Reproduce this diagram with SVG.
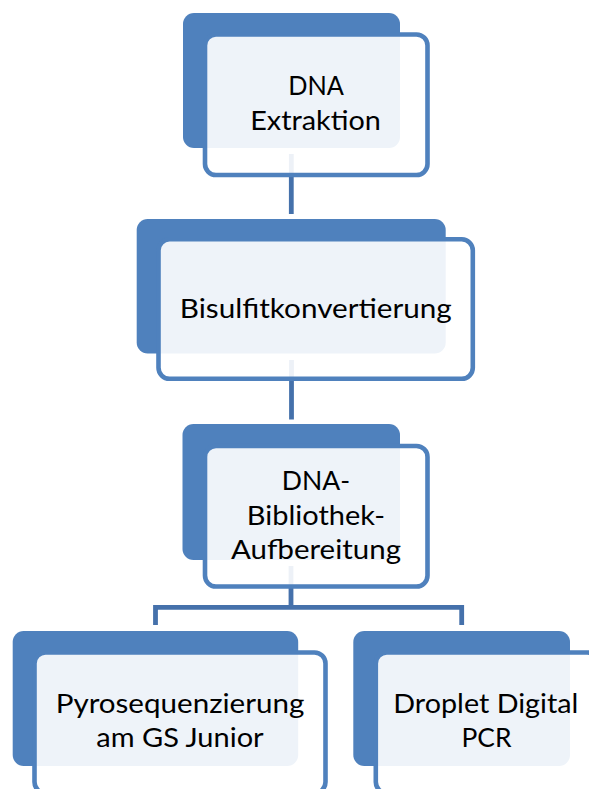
<svg xmlns="http://www.w3.org/2000/svg" width="589" height="789" viewBox="0 0 589 789">
<style>
.back{fill:#4F81BD;}
.front{fill:#FFFFFF;fill-opacity:0.9;stroke:#4F81BD;stroke-width:4.6;}
.conn{fill:none;stroke:#4571AB;stroke-width:4.8;stroke-linejoin:miter;}
.lbl{font-family:Lato,"Liberation Sans",sans-serif;font-size:26.5px;fill:#000000;text-anchor:middle;}
</style>
<rect width="589" height="789" fill="#FFFFFF"/>
<g id="connectors">
<path class="conn" d="M291.3,154 V214"/>
<path class="conn" d="M291.5,360 V419.5"/>
<path class="conn" d="M291,566 V607.3 M155.5,625 V607.3 H461.7 V625"/>
</g>
<g id="node-dna-extraktion">
<rect class="back" x="183" y="13" width="217" height="135" rx="11"/>
<rect class="front" x="205" y="34.5" width="222.5" height="140.5" rx="11"/>
<text class="lbl" x="316" y="95" textLength="55.7" lengthAdjust="spacingAndGlyphs">DNA</text>
<text class="lbl" x="315.5" y="130" textLength="130.7" lengthAdjust="spacingAndGlyphs">Extraktion</text>
</g>
<g id="node-bisulfit">
<rect class="back" x="136.7" y="219" width="309" height="134.5" rx="11"/>
<rect class="front" x="158.5" y="239.3" width="314.3" height="139.5" rx="11"/>
<text class="lbl" x="315.8" y="318.3" textLength="272" lengthAdjust="spacingAndGlyphs">Bisulfitkonvertierung</text>
</g>
<g id="node-bibliothek">
<rect class="back" x="182.5" y="424" width="217.5" height="136" rx="11"/>
<rect class="front" x="205" y="446" width="222.5" height="140.5" rx="11"/>
<text class="lbl" x="316" y="490" textLength="68.3" lengthAdjust="spacingAndGlyphs">DNA-</text>
<text class="lbl" x="316" y="524.5" textLength="138.3" lengthAdjust="spacingAndGlyphs">Bibliothek-</text>
<text class="lbl" x="316" y="559" textLength="170" lengthAdjust="spacingAndGlyphs">Aufbereitung</text>
</g>
<g id="node-pyrosequenzierung">
<rect class="back" x="12.7" y="631" width="285.5" height="135" rx="11"/>
<rect class="front" x="34.5" y="652.5" width="291" height="140.5" rx="11"/>
<text class="lbl" x="180" y="713" textLength="248.7" lengthAdjust="spacingAndGlyphs">Pyrosequenzierung</text>
<text class="lbl" x="180" y="747" textLength="167.3" lengthAdjust="spacingAndGlyphs">am GS Junior</text>
</g>
<g id="node-droplet">
<rect class="back" x="353.3" y="631" width="216.7" height="135" rx="11"/>
<rect class="front" x="375.8" y="652.5" width="222.5" height="140.5" rx="11"/>
<text class="lbl" x="485.8" y="713" textLength="185" lengthAdjust="spacingAndGlyphs">Droplet Digital</text>
<text class="lbl" x="486.5" y="747" textLength="50" lengthAdjust="spacingAndGlyphs">PCR</text>
</g>
</svg>
